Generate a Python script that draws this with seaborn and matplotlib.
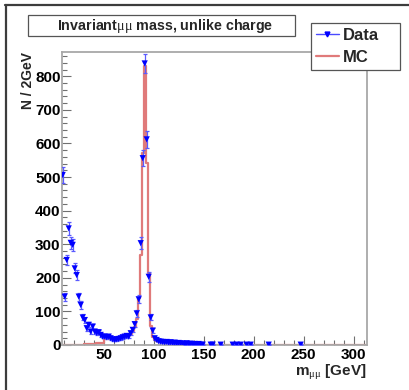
import numpy as np
import pandas as pd
import matplotlib
matplotlib.use("Agg")
import matplotlib.pyplot as plt
import seaborn as sns
from matplotlib.lines import Line2D
from matplotlib.patches import Rectangle
from matplotlib.ticker import MultipleLocator

# ---------------- data ----------------
data_mass = [9, 11, 13, 15, 17, 19, 21, 23, 25, 27, 29, 31, 33, 35, 37, 39,
             41, 43, 45, 47, 49, 51, 53, 55, 57, 59, 61, 63, 65, 67, 69, 71,
             73, 75, 77, 79, 81, 83, 85, 87, 89, 91, 93, 95, 97, 99, 101, 103,
             105, 107, 109, 111, 113, 115, 117, 119, 121, 123, 125, 127, 129,
             131, 133, 135, 137, 139, 141, 143, 145, 147, 149, 157, 159, 167,
             179, 183, 187, 193, 197, 215, 247]
data_counts = [506, 144, 253, 347, 304, 298, 228, 208, 144, 119, 82, 74, 50, 60,
               40, 55, 40, 36, 38, 30, 25, 25, 23, 25, 20, 17, 15, 17, 18, 20,
               23, 25, 27, 25, 35, 45, 62, 94, 136, 303, 556, 838, 612, 203, 82,
               43, 20, 15, 11, 10, 9, 8, 9, 7, 8, 6, 7, 5, 6, 5, 4, 3, 5, 3, 4,
               2, 3, 2, 3, 1, 1, 1, 1, 1, 1, 1, 1, 1, 1, 1, 1]

mc_edges = list(range(8, 154, 2)) + [200, 312]
mc_counts = [0, 0, 0, 0, 0, 0, 0, 0, 0, 0, 0,
             3, 3, 4, 4, 4, 4, 5, 5, 5, 5,
             18, 18, 18, 17, 17, 17, 17, 18, 19, 21, 23, 26, 29, 34, 42, 54,
             78, 140, 268, 570, 830, 541, 213, 56, 24, 15, 12, 10, 9, 8, 8, 7,
             7, 6, 6, 5, 5, 5, 4, 4, 4, 3, 3, 3, 3, 2, 2, 2, 2, 2, 1,
             1, 0.5]

title_text = r"Invariant$\mathrm{\mu\mu}$ mass, unlike charge"
x_label = r"m$_{\mathrm{\mu\mu}}$ [GeV]"
y_label = "N / 2GeV"
legend_labels = ["Data", "MC"]

# ---------------- style ----------------
sns.set_theme(style="white")
plt.rcParams["font.family"] = ["Liberation Sans", "DejaVu Sans"]
plt.rcParams["mathtext.fontset"] = "custom"
plt.rcParams["mathtext.rm"] = "Liberation Serif"
plt.rcParams["mathtext.it"] = "Liberation Serif:italic"
plt.rcParams["mathtext.bf"] = "Liberation Serif:bold"

W, H = 410, 390
fig = plt.figure(figsize=(W / 100, H / 100), dpi=100)
fig.patch.set_facecolor("white")

L, R, T, B = 62.3, 366.7, 51.7, 345.0
ax = fig.add_axes([L / W, 1 - B / H, (R - L) / W, (B - T) / H])
ax.set_facecolor("white")

mc_edges_arr = np.array(mc_edges, dtype=float)
mc_centers = 0.5 * (mc_edges_arr[:-1] + mc_edges_arr[1:])
mc_df = pd.DataFrame({"mass": mc_centers, "count": mc_counts})
data_df = pd.DataFrame({"mass": data_mass, "count": data_counts})

mc_color = "#e07a7a"
data_color = "#0000ff"

sns.histplot(data=mc_df, x="mass", weights="count", bins=mc_edges,
             element="step", fill=False, color=mc_color, linewidth=1.6,
             ax=ax, zorder=2)

ax.errorbar(data_df["mass"], data_df["count"], yerr=np.sqrt(data_df["count"]),
            fmt="none", ecolor="#5a5aff", elinewidth=0.9, capsize=1.5,
            capthick=0.9, zorder=3)
sns.scatterplot(data=data_df, x="mass", y="count", marker="v", s=20,
                color=data_color, edgecolor="none", linewidth=0, ax=ax,
                zorder=4)

ax.set_xlim(8.6, 313)
ax.set_ylim(0, 873)

ax.xaxis.set_major_locator(MultipleLocator(50))
ax.xaxis.set_minor_locator(MultipleLocator(10))
ax.yaxis.set_major_locator(MultipleLocator(100))
ax.yaxis.set_minor_locator(MultipleLocator(20))
ax.set_xticks([50, 100, 150, 200, 250, 300])
ax.set_yticks([0, 100, 200, 300, 400, 500, 600, 700, 800])

tick_col = "#707070"
ax.tick_params(axis="both", which="major", direction="in", length=6.5,
               width=0.8, color=tick_col, labelsize=11, labelcolor="black")
ax.tick_params(axis="both", which="minor", direction="in", length=3.6,
               width=0.8, color=tick_col)
ax.tick_params(axis="y", which="major", pad=1.2)
ax.tick_params(axis="x", which="major", pad=2.5)
ax.tick_params(axis="x", which="both", top=False, bottom=True)
ax.tick_params(axis="y", which="both", left=True, right=False)
for lab in ax.get_xticklabels() + ax.get_yticklabels():
    lab.set_fontweight("bold")

for s in ax.spines.values():
    s.set_visible(True)
    s.set_color("#a8a8a8")
    s.set_linewidth(1.3)

ax.set_xlabel(x_label, fontsize=11, fontweight="bold", loc="right")
ax.xaxis.set_label_coords(1.0, -(362.5 - B) / (B - T))
ax.set_ylabel(y_label, fontsize=10, fontweight="bold", loc="top")
ax.yaxis.set_label_coords(-(L - 35.5) / (R - L), 1.0)
ax.grid(False)

# title box
fig.add_artist(Rectangle((28.3 / W, 1 - 36 / H), (295 - 28.3) / W, 21 / H,
                         transform=fig.transFigure, fc="white", ec="#555555",
                         lw=0.9))
fig.text(165.3 / W, 1 - 25.7 / H, title_text, ha="center", va="center",
         fontsize=10.3, fontweight="bold")

# legend
handles = [Line2D([], [], color="#4a4aff", lw=1.0, marker="v", markersize=3.5,
                  markerfacecolor=data_color, markeredgecolor=data_color),
           Line2D([], [], color=mc_color, lw=1.6)]
leg = fig.legend(handles, legend_labels, loc="lower left",
                 bbox_to_anchor=(310.7 / W, 1 - 70 / H, (400 - 310.7) / W, 55 / H),
                 mode="expand", borderaxespad=0, frameon=True, fancybox=False,
                 prop={"weight": "bold", "size": 12}, handlelength=1.4,
                 handletextpad=0.25, borderpad=0.3, labelspacing=0.45)
leg.get_frame().set_edgecolor("#555555")
leg.get_frame().set_linewidth(0.9)
leg.get_frame().set_facecolor("white")
leg.get_frame().set_alpha(1)

# canvas bevel border (top and left)
fig.add_artist(Line2D([5.8 / W, 5.8 / W], [0, 1 - 4.5 / H],
                      transform=fig.transFigure, color="#3c3c3c", lw=1.6))
fig.add_artist(Line2D([5.0 / W, 1], [1 - 4.8 / H, 1 - 4.8 / H],
                      transform=fig.transFigure, color="#3c3c3c", lw=1.6))

fig.savefig("out.png", dpi=100)
